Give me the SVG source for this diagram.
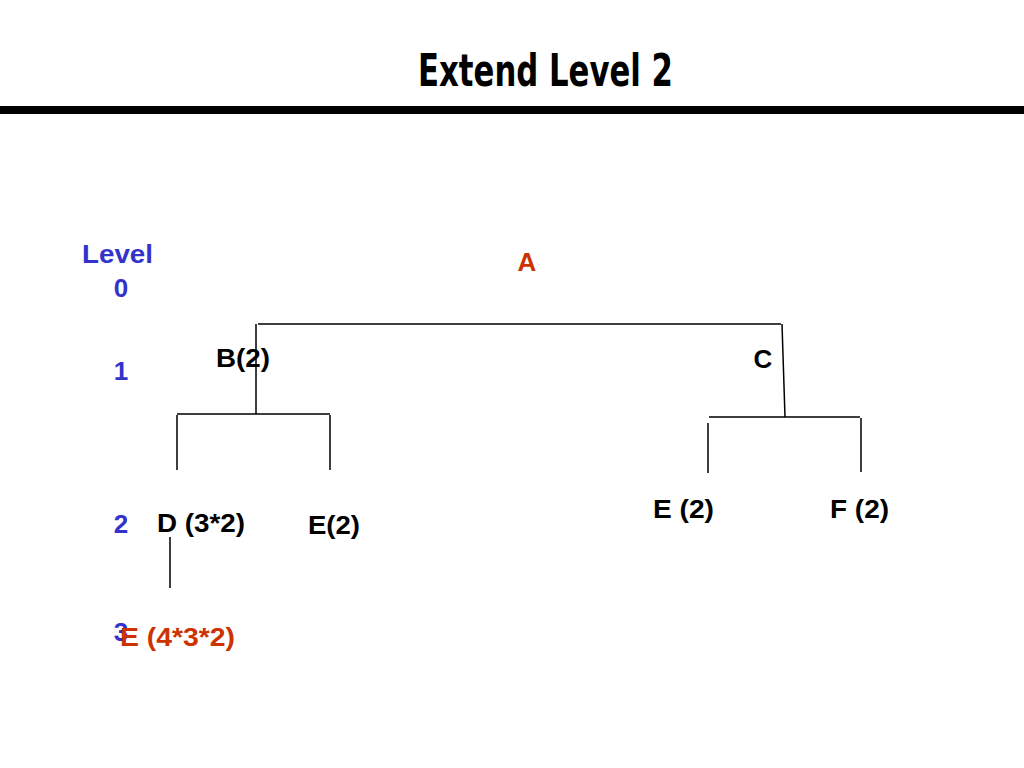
<svg xmlns="http://www.w3.org/2000/svg" width="1024" height="768" viewBox="0 0 1024 768">
<style>
.t{font-family:"Liberation Sans",Arial,sans-serif;font-weight:bold;font-size:26px}
.k{fill:#000}.b{fill:#3333cc}.r{fill:#cc3300}
.l{stroke:#000;stroke-width:1.5;fill:none}
</style>
<rect width="1024" height="768" fill="#fff"/>
<text x="418" y="86" textLength="255" lengthAdjust="spacingAndGlyphs" font-family="DejaVu Sans Condensed,Liberation Sans,sans-serif" font-weight="bold" font-size="44">Extend Level 2</text>
<rect x="0" y="106" width="1024" height="8" fill="#000"/>
<g id="levels">
<text class="t b" x="82" y="263" textLength="71" lengthAdjust="spacingAndGlyphs">Level</text>
<text class="t b" x="121" y="297" text-anchor="middle">0</text>
<text class="t b" x="121" y="380" text-anchor="middle">1</text>
<text class="t b" x="121" y="533" text-anchor="middle">2</text>
<text class="t b" x="121" y="641" text-anchor="middle">3</text>
</g>
<g id="connectors">
<path class="l" d="M258 324H781M256 324V414M782 324L785 417M177 414H330M177 415V470M330 415V470M709 417H860M708 423V473M861 418V472M170 537V588"/>
</g>
<g id="A"><text class="t r" x="527" y="271" text-anchor="middle">A</text></g>
<g id="B"><text class="t k" x="216" y="367" textLength="54" lengthAdjust="spacingAndGlyphs">B(2)</text></g>
<g id="C"><text class="t k" x="763" y="368" text-anchor="middle">C</text></g>
<g id="D"><text class="t k" x="157" y="532" textLength="88" lengthAdjust="spacingAndGlyphs">D (3*2)</text></g>
<g id="E1"><text class="t k" x="308" y="534" textLength="52" lengthAdjust="spacingAndGlyphs">E(2)</text></g>
<g id="E2"><text class="t k" x="653" y="518" textLength="61" lengthAdjust="spacingAndGlyphs">E (2)</text></g>
<g id="F"><text class="t k" x="830" y="518" textLength="59" lengthAdjust="spacingAndGlyphs">F (2)</text></g>
<g id="E3"><text class="t r" x="120" y="646" textLength="115" lengthAdjust="spacingAndGlyphs">E (4*3*2)</text></g>
</svg>
